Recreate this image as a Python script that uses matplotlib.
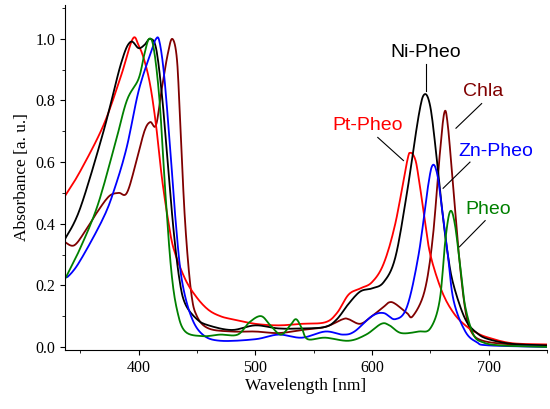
import numpy as np
import matplotlib
matplotlib.use("Agg")
import matplotlib.pyplot as plt
from matplotlib.ticker import MultipleLocator

ni_x = [337,350,370,385,393,400,405,410,415,420,425,430,435,440,450,460,480,500,520,540,560,570,580,590,600,610,620,630,640,645,650,655,660,665,670,680,690,700,720,750]
ni_y = [0.35,0.45,0.70,0.92,0.99,0.97,0.98,1.0,0.97,0.82,0.6,0.38,0.22,0.14,0.09,0.07,0.055,0.07,0.06,0.06,0.065,0.09,0.14,0.18,0.19,0.21,0.29,0.50,0.75,0.82,0.78,0.63,0.45,0.30,0.20,0.09,0.045,0.025,0.01,0.005]
pt_x = [337,350,370,385,395,400,405,410,415,420,425,430,440,450,460,470,480,500,520,540,560,570,580,590,600,610,620,630,633,637,640,645,650,660,670,680,690,700,720,750]
pt_y = [0.49,0.57,0.72,0.88,1.0,0.98,0.93,0.85,0.72,0.55,0.42,0.32,0.22,0.16,0.12,0.10,0.09,0.075,0.07,0.075,0.08,0.11,0.17,0.19,0.21,0.27,0.40,0.60,0.63,0.61,0.55,0.42,0.30,0.18,0.11,0.07,0.045,0.03,0.012,0.008]
zn_x = [337,340,350,370,380,390,400,410,415,418,422,427,432,437,445,455,470,500,520,540,560,575,585,600,610,620,630,640,648,652,656,660,665,670,680,690,700,750]
zn_y = [0.23,0.23,0.28,0.42,0.52,0.65,0.83,0.95,1.0,0.99,0.88,0.65,0.40,0.22,0.10,0.04,0.02,0.025,0.04,0.03,0.05,0.04,0.05,0.10,0.11,0.09,0.13,0.30,0.52,0.59,0.56,0.45,0.30,0.15,0.05,0.015,0.005,0.0]
ph_x = [337,350,365,380,390,400,405,409,413,418,423,428,433,440,455,470,485,495,505,513,522,530,535,540,545,560,580,595,608,615,625,640,650,658,663,667,671,676,680,687,695,710,750]
ph_y = [0.22,0.32,0.46,0.66,0.80,0.87,0.95,1.0,0.97,0.80,0.50,0.25,0.12,0.05,0.035,0.04,0.04,0.08,0.10,0.07,0.04,0.07,0.09,0.06,0.025,0.03,0.02,0.04,0.075,0.07,0.045,0.05,0.06,0.15,0.35,0.44,0.40,0.25,0.13,0.04,0.015,0.005,0.0]
ch_x = [337,345,355,365,375,383,390,398,405,410,415,420,425,429,433,436,440,445,450,460,480,500,520,540,560,575,580,590,600,610,615,620,630,635,645,652,658,662,665,670,675,680,685,695,720,750]
ch_y = [0.34,0.33,0.38,0.44,0.49,0.50,0.50,0.60,0.70,0.73,0.72,0.84,0.95,1.0,0.93,0.70,0.40,0.18,0.10,0.06,0.05,0.05,0.045,0.055,0.065,0.09,0.09,0.075,0.10,0.13,0.145,0.14,0.11,0.10,0.18,0.35,0.62,0.76,0.72,0.50,0.28,0.12,0.05,0.02,0.008,0.005]

fig = plt.figure(figsize=(5.5, 4.09), dpi=100)
ax = fig.add_axes([65/550, 1-350/409, (547-65)/550, (350-5)/409])

def smooth(x, y, n=8):
    x = np.asarray(x, float); y = np.asarray(y, float)
    xs, ys = [], []
    for i in range(len(x)-1):
        p0 = i-1 if i > 0 else i
        p3 = i+2 if i+2 < len(x) else i+1
        for t in np.linspace(0, 1, n, endpoint=False):
            def cr(a):
                P0, P1, P2, P3 = a[p0], a[i], a[i+1], a[p3]
                return 0.5*((2*P1)+(-P0+P2)*t+(2*P0-5*P1+4*P2-P3)*t**2+(-P0+3*P1-3*P2+P3)*t**3)
            xs.append(cr(x)); ys.append(cr(y))
    xs.append(x[-1]); ys.append(y[-1])
    return xs, ys

for x, y, c in [(ch_x, ch_y, '#800000'), (pt_x, pt_y, '#ff0000'), (ni_x, ni_y, 'black'),
                (zn_x, zn_y, '#0000ff'), (ph_x, ph_y, '#008000')]:
    ax.plot(*smooth(x, y), color=c, lw=1.3)

ax.set_xlim(337, 750)
ax.set_ylim(-0.01, 1.11)
for s in ['top', 'right']:
    ax.spines[s].set_visible(False)
ax.xaxis.set_major_locator(MultipleLocator(100))
ax.xaxis.set_minor_locator(MultipleLocator(50))
ax.yaxis.set_minor_locator(MultipleLocator(0.1))
ax.set_yticks(np.arange(0, 1.01, 0.2))
ax.set_yticklabels([f"{v:.1f}" for v in np.arange(0, 1.01, 0.2)])
ax.tick_params(labelsize=11.5, direction='out')
for lab in ax.get_xticklabels() + ax.get_yticklabels():
    lab.set_family('Liberation Serif')
ax.set_xlabel('Wavelength [nm]', family='Liberation Serif', fontsize=12.5, labelpad=2)
ax.set_ylabel('Absorbance [a. u.]', family='Liberation Serif', fontsize=12.5)

ann = [('Ni-Pheo', 'black', 646, 0.955, (646, 0.92), (646, 0.83)),
       ('Chla', '#800000', 695, 0.83, (694, 0.79), (672, 0.71)),
       ('Pt-Pheo', '#ff0000', 596, 0.72, (605, 0.68), (627, 0.605)),
       ('Zn-Pheo', '#0000ff', 706, 0.635, (684, 0.60), (661, 0.515)),
       ('Pheo', '#008000', 700, 0.447, (697, 0.41), (675, 0.325))]
for t, c, tx, ty, p1, p2 in ann:
    ax.text(tx, ty, t, color=c, ha='center', va='center', fontsize=14, family='Liberation Sans')
    ax.plot([p1[0], p2[0]], [p1[1], p2[1]], color='black', lw=0.8)

fig.savefig('out.png', dpi=100)
